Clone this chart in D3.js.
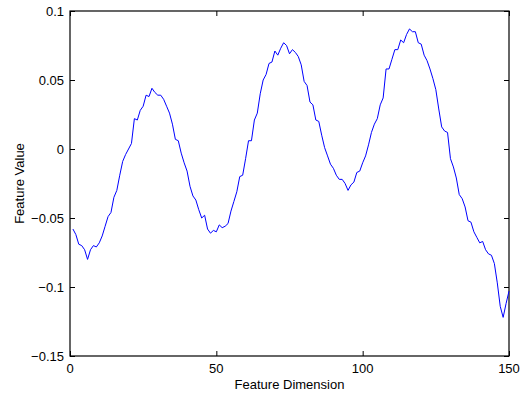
<!DOCTYPE html>
<html>
<head>
<meta charset="utf-8">
<script src="https://cdn.jsdelivr.net/npm/d3@7"></script>
<style>
  body { margin: 0; background: #fff; }
  svg text { font-family: "Liberation Sans", Arial, sans-serif; font-size: 13px; fill: #000; }
</style>
</head>
<body>
<svg id="chart" width="526" height="397"></svg>
<script>
(function (d3) {
    'use strict';

    // feature values for dimensions 1..150
    var values = [
        -0.058, -0.062, -0.069, -0.070, -0.073, -0.080, -0.073, -0.070, -0.071, -0.068,
        -0.063, -0.056, -0.049, -0.046, -0.035, -0.030, -0.019, -0.009, -0.004, 0.000,
        0.004, 0.022, 0.021, 0.028, 0.031, 0.039, 0.038, 0.044, 0.041, 0.039,
        0.039, 0.036, 0.031, 0.026, 0.018, 0.007, 0.006, -0.003, -0.010, -0.016,
        -0.027, -0.034, -0.037, -0.044, -0.050, -0.048, -0.058, -0.061, -0.059, -0.060,
        -0.055, -0.057, -0.056, -0.054, -0.045, -0.038, -0.031, -0.020, -0.019, -0.007,
        0.006, 0.006, 0.021, 0.026, 0.040, 0.050, 0.054, 0.062, 0.063, 0.071,
        0.068, 0.073, 0.077, 0.075, 0.069, 0.072, 0.070, 0.067, 0.061, 0.049,
        0.046, 0.034, 0.032, 0.021, 0.020, 0.010, 0.001, -0.005, -0.011, -0.014,
        -0.019, -0.022, -0.022, -0.025, -0.030, -0.026, -0.024, -0.017, -0.016, -0.010,
        -0.005, 0.003, 0.012, 0.018, 0.022, 0.032, 0.037, 0.058, 0.058, 0.065,
        0.072, 0.072, 0.079, 0.077, 0.083, 0.087, 0.085, 0.085, 0.077, 0.076,
        0.068, 0.064, 0.058, 0.051, 0.043, 0.029, 0.016, 0.013, 0.012, -0.007,
        -0.013, -0.021, -0.033, -0.036, -0.042, -0.052, -0.053, -0.060, -0.064, -0.068,
        -0.067, -0.073, -0.076, -0.077, -0.083, -0.097, -0.114, -0.122, -0.112, -0.103
    ];
    var xTicks = [0, 50, 100, 150];
    var yTicks = [-0.15, -0.1, -0.05, 0, 0.05, 0.1];
    var xLabel = 'Feature Dimension';
    var yLabel = 'Feature Value';

    var left = 70, right = 509, top = 11, bottom = 356;

    var x = d3.scaleLinear().domain([0, 150]).range([left, right]);
    var y = d3.scaleLinear().domain([-0.15, 0.1]).range([bottom, top]);

    var svg = d3.select('#chart');

    function fmt(v) {
        return (v < 0 ? '\u2212' : '') + d3.format('.2~f')(Math.abs(v));
    }

    // axes with inward ticks on all four sides, like the original box plot
    svg.append('g')
        .attr('transform', 'translate(0,' + bottom + ')')
        .call(d3.axisTop(x).tickValues(xTicks).tickSize(5).tickFormat(''))
        .call(function (g) { g.select('.domain').remove(); });
    svg.append('g')
        .attr('transform', 'translate(0,' + top + ')')
        .call(d3.axisBottom(x).tickValues(xTicks).tickSize(5).tickFormat(''))
        .call(function (g) { g.select('.domain').remove(); });
    svg.append('g')
        .attr('transform', 'translate(' + left + ',0)')
        .call(d3.axisRight(y).tickValues(yTicks).tickSize(5).tickFormat(''))
        .call(function (g) { g.select('.domain').remove(); });
    svg.append('g')
        .attr('transform', 'translate(' + right + ',0)')
        .call(d3.axisLeft(y).tickValues(yTicks).tickSize(5).tickFormat(''))
        .call(function (g) { g.select('.domain').remove(); });

    svg.selectAll('.tick line').attr('stroke', '#000');

    svg.append('rect')
        .attr('x', left).attr('y', top)
        .attr('width', right - left).attr('height', bottom - top)
        .attr('fill', 'none').attr('stroke', '#000').attr('stroke-width', 1.2);

    // tick labels
    svg.selectAll('.xlab').data(xTicks).enter()
        .append('text')
        .attr('x', function (d) { return x(d); })
        .attr('y', bottom + 17)
        .attr('text-anchor', 'middle')
        .text(function (d) { return d; });

    svg.selectAll('.ylab').data(yTicks).enter()
        .append('text')
        .attr('x', left - 6)
        .attr('y', function (d) { return y(d) + 4.5; })
        .attr('text-anchor', 'end')
        .text(fmt);

    svg.append('text')
        .attr('x', (left + right) / 2)
        .attr('y', 389)
        .attr('text-anchor', 'middle')
        .text(xLabel);

    svg.append('text')
        .attr('transform', 'translate(24,' + ((top + bottom) / 2) + ') rotate(-90)')
        .attr('text-anchor', 'middle')
        .text(yLabel);

    var line = d3.line()
        .x(function (d, i) { return x(i + 1); })
        .y(function (d) { return y(d); });

    svg.append('path')
        .datum(values)
        .attr('d', line)
        .attr('fill', 'none')
        .attr('stroke', '#0000ff')
        .attr('stroke-width', 1);
})(d3);
</script>
</body>
</html>
